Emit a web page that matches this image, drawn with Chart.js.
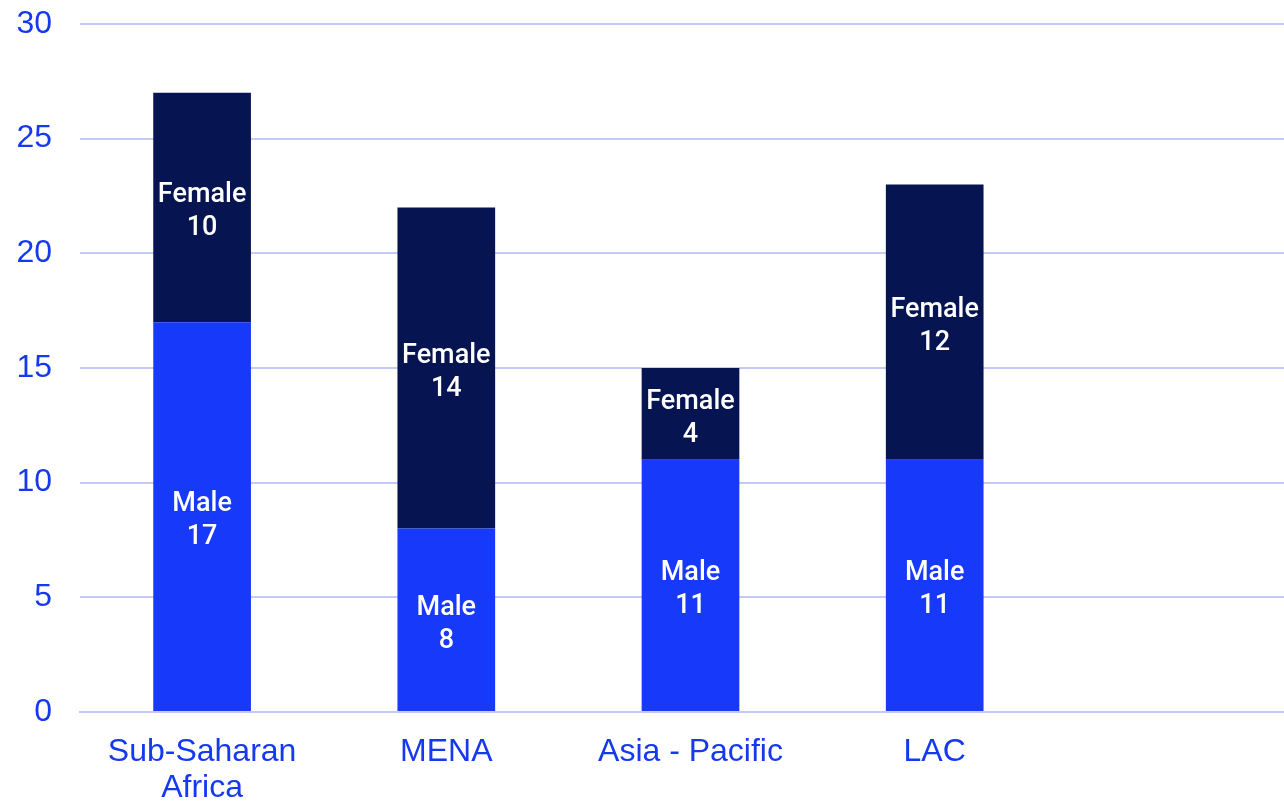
<!DOCTYPE html>
<html>
<head>
<meta charset="utf-8">
<script src="https://cdn.jsdelivr.net/npm/chart.js@4/dist/chart.umd.min.js"></script>
<style>
  html, body { margin: 0; padding: 0; background: #fff; overflow: hidden; }
  #wrap { width: 1301px; height: 801px; }
</style>
</head>
<body>
<div id="wrap"><canvas id="myChart"></canvas></div>
<script>
// regions (last slot is left empty in the original chart)
const regions = [['Sub-Saharan', 'Africa'], 'MENA', 'Asia - Pacific', 'LAC', '']
const male = [17, 8, 11, 11, null]
const female = [10, 14, 4, 12, null]
const yTicks = [0, 5, 10, 15, 20, 25, 30]

const blueText = '#1539ef'
const maleColor = '#1739fa'
const femaleColor = '#061452'
const gridColor = '#c3cbfa'

// draws "Female\n10" in the middle of each segment
const segmentLabels = {
    id: 'segmentLabels',
    afterDatasetsDraw(chart) {
        const ctx = chart.ctx
        ctx.save()
        ctx.fillStyle = '#ffffff'
        ctx.font = '500 27px Roboto'
        ctx.textAlign = 'center'
        ctx.textBaseline = 'middle'
        chart.data.datasets.forEach(function (ds, i) {
            const meta = chart.getDatasetMeta(i)
            meta.data.forEach(function (bar, j) {
                const v = ds.data[j]
                if (v == null) return
                const props = bar.getProps(['x', 'y', 'base'], true)
                const cy = (props.y + props.base) / 2
                ctx.fillText(ds.label, props.x, cy - 12)
                ctx.fillText(String(v), props.x, cy + 21)
            })
        })
        ctx.restore()
    }
}

const data = {
    labels: regions,
    datasets: [{
        label: 'Male',
        data: male,
        backgroundColor: maleColor,
        barPercentage: 0.8,
        categoryPercentage: 0.5
    }, {
        label: 'Female',
        data: female,
        backgroundColor: femaleColor,
        barPercentage: 0.8,
        categoryPercentage: 0.5
    }]
}

const config = {
    type: 'bar',
    data: data,
    plugins: [segmentLabels],
    options: {
        responsive: true,
        maintainAspectRatio: false,
        animation: false,
        layout: {
            padding: { left: 0, top: 0, right: 0, bottom: 0 }
        },
        plugins: {
            legend: { display: false },
            tooltip: { enabled: false }
        },
        scales: {
            x: {
                stacked: true,
                afterFit(axis) { axis.height = 89 },
                grid: { display: false, drawTicks: false },
                border: { display: true, color: gridColor, width: 2 },
                ticks: {
                    color: blueText,
                    padding: 23,
                    maxRotation: 0,
                    autoSkip: false,
                    font: { family: 'Liberation Sans, Arial', size: 32, lineHeight: 1.1 }
                }
            },
            y: {
                stacked: true,
                min: 0,
                max: 30,
                afterFit(axis) {
                    axis.width = 80
                    axis.paddingTop = 24
                    axis.paddingBottom = 0
                },
                afterBuildTicks(axis) {
                    axis.ticks = yTicks.map(function (v) { return { value: v } })
                },
                grid: { color: gridColor, lineWidth: 2, drawTicks: false },
                border: { display: false },
                ticks: {
                    color: blueText,
                    padding: 28,
                    font: { family: 'Liberation Sans, Arial', size: 32 }
                }
            }
        }
    }
}

const myChart = new Chart(document.getElementById('myChart'), config)
</script>
</body>
</html>
